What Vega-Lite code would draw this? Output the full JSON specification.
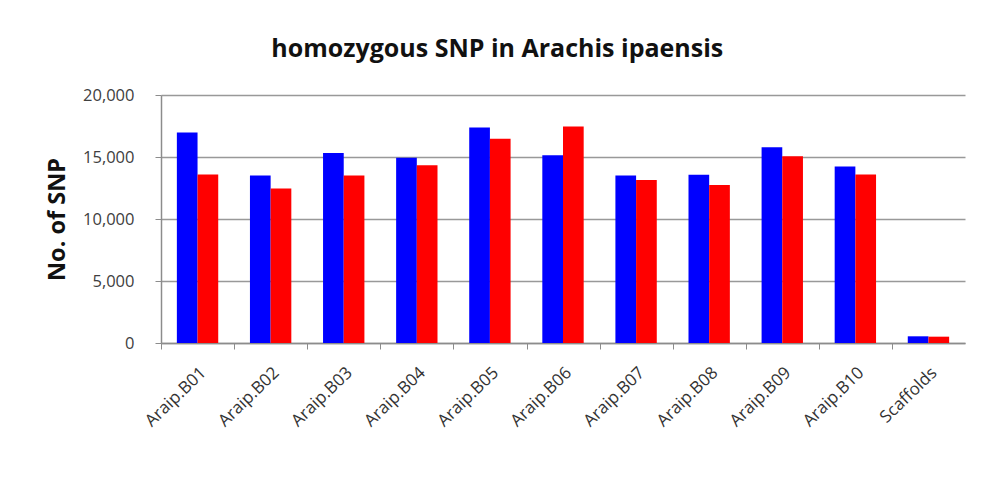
{
  "$schema": "https://vega.github.io/schema/vega-lite/v6.json",
  "autosize": {"type": "none"},
  "width": 804,
  "height": 248,
  "padding": {"left": 161, "top": 95, "right": 22, "bottom": 154},
  "background": "white",
  "title": {
    "text": "homozygous SNP in Arachis ipaensis",
    "font": "Open Sans",
    "fontSize": 25,
    "fontWeight": "bold",
    "color": "#111111",
    "anchor": "middle",
    "frame": "bounds",
    "offset": 25,
    "dx": -8
  },
  "data": {
    "values": [
      {"chr": "Araip.B01", "series": "A", "snp": 16970},
      {"chr": "Araip.B01", "series": "B", "snp": 13580},
      {"chr": "Araip.B02", "series": "A", "snp": 13500},
      {"chr": "Araip.B02", "series": "B", "snp": 12460},
      {"chr": "Araip.B03", "series": "A", "snp": 15330},
      {"chr": "Araip.B03", "series": "B", "snp": 13500},
      {"chr": "Araip.B04", "series": "A", "snp": 14930},
      {"chr": "Araip.B04", "series": "B", "snp": 14340},
      {"chr": "Araip.B05", "series": "A", "snp": 17370},
      {"chr": "Araip.B05", "series": "B", "snp": 16480},
      {"chr": "Araip.B06", "series": "A", "snp": 15140},
      {"chr": "Araip.B06", "series": "B", "snp": 17450},
      {"chr": "Araip.B07", "series": "A", "snp": 13500},
      {"chr": "Araip.B07", "series": "B", "snp": 13150},
      {"chr": "Araip.B08", "series": "A", "snp": 13560},
      {"chr": "Araip.B08", "series": "B", "snp": 12750},
      {"chr": "Araip.B09", "series": "A", "snp": 15790},
      {"chr": "Araip.B09", "series": "B", "snp": 15060},
      {"chr": "Araip.B10", "series": "A", "snp": 14230},
      {"chr": "Araip.B10", "series": "B", "snp": 13580},
      {"chr": "Scaffolds", "series": "A", "snp": 540},
      {"chr": "Scaffolds", "series": "B", "snp": 510}
    ]
  },
  "mark": {"type": "bar"},
  "encoding": {
    "x": {
      "field": "chr",
      "type": "nominal",
      "sort": null,
      "scale": {"paddingInner": 0.434, "paddingOuter": 0.217},
      "axis": {
        "title": null,
        "labelAngle": -44,
        "labelAlign": "right",
        "labelBaseline": "middle",
        "labelFont": "Open Sans",
        "labelFontSize": 17,
        "labelColor": "#333333",
        "labelPadding": 21,
        "tickOffset": -36.5,
        "labelOffset": 42,
        "tickSize": 6,
        "tickColor": "#8c8c8c",
        "domainColor": "#8c8c8c",
        "domainWidth": 1.5,
        "grid": false
      }
    },
    "xOffset": {"field": "series", "type": "nominal", "scale": {"paddingInner": 0, "paddingOuter": 0}},
    "y": {
      "field": "snp",
      "type": "quantitative",
      "scale": {"domain": [0, 20000], "nice": false},
      "axis": {
        "title": "No. of SNP",
        "titleFont": "Open Sans",
        "titleFontSize": 23.5,
        "titleFontWeight": "bold",
        "titleColor": "#111111",
        "titlePadding": 13,
        "values": [0, 5000, 10000, 15000, 20000],
        "format": ",d",
        "labelFont": "Open Sans",
        "labelFontSize": 16.5,
        "labelColor": "#404040",
        "labelPadding": 21,
        "tickSize": 6,
        "tickColor": "#8c8c8c",
        "domainColor": "#8c8c8c",
        "domainWidth": 1.5,
        "gridColor": "#999999",
        "gridWidth": 1.3
      }
    },
    "color": {
      "field": "series",
      "type": "nominal",
      "scale": {"domain": ["A", "B"], "range": ["#0000ff", "#ff0000"]},
      "legend": null
    }
  },
  "config": {"view": {"stroke": null}}
}
